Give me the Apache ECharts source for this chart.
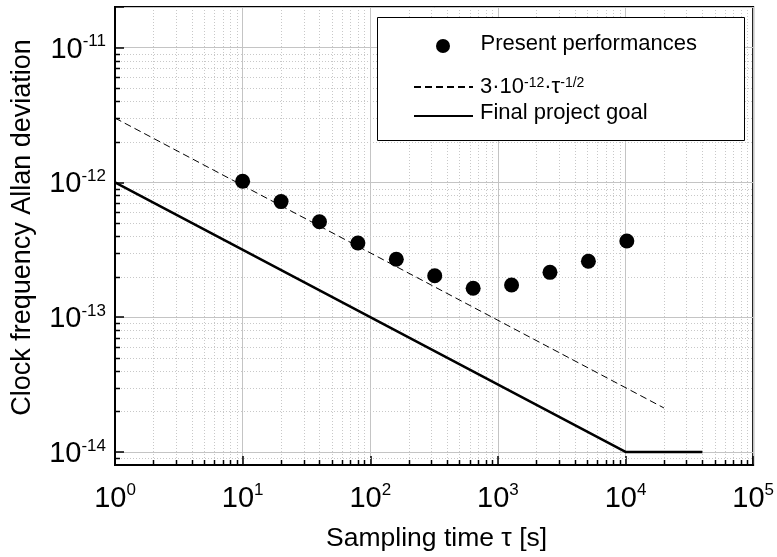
<!DOCTYPE html>
<html><head><meta charset="utf-8">
<script src="https://cdn.jsdelivr.net/npm/echarts@6/dist/echarts.min.js"></script>
<style>html,body{margin:0;padding:0;background:#fff}#c{width:777px;height:557px}</style>
</head><body><div id="c"></div>
<script>
// ---- data ----
const tau = [10, 20, 40, 80, 160, 320, 640, 1280, 2560, 5120, 10240];
const adev = [1.02e-12, 7.2e-13, 5.1e-13, 3.55e-13, 2.69e-13, 2.03e-13, 1.64e-13, 1.73e-13, 2.15e-13, 2.60e-13, 3.67e-13];
const refTau = [1, 20000];
const refDev = [3e-12, 2.12e-14];
const goalTau = [1, 10000, 40000];
const goalDev = [1e-12, 1e-14, 1e-14];
const xDecades = [0, 1, 2, 3, 4];
const yDecades = [-15, -14, -13, -12, -11];
const minorMultipliers = [2, 3, 4, 5, 6, 7, 8, 9];
const xMin = 1, xMax = 1e5, yMin = 8e-15, yMax = 2e-11;
const nameScatter = 'Present performances';
const nameRef = 'ref';
const nameGoal = 'Final project goal';
const refLegendText = '{n|3·10}{s|-12}{n|·τ}{s|-1/2}';
const xTitle = 'Sampling time τ [s]';
const yTitle = 'Clock frequency Allan deviation';

const FONT = "'Liberation Sans', Arial, Helvetica, sans-serif";

function pow10Label(v) {
  const e = Math.log10(v);
  const r = Math.round(e);
  if (Math.abs(e - r) > 1e-6) return '';
  return '{b|10}{s|' + r + '}';
}
function minorValues(decades, lo, hi) {
  const out = [];
  decades.forEach(d => minorMultipliers.forEach(m => {
    const v = m * Math.pow(10, d);
    if (v > lo * 1.0001 && v < hi * 0.9999) out.push(v);
  }));
  return out;
}
const xMinor = minorValues(xDecades, xMin, xMax);
const yMinor = minorValues(yDecades, yMin, yMax);

const labelRich = {
  b: { fontSize: 29, lineHeight: 29, padding: [4, 0, 0, 0], fontFamily: FONT, color: '#000' },
  s: { fontSize: 17, lineHeight: 17, verticalAlign: 'top', fontFamily: FONT, color: '#000' }
};
const legendRich = {
  n: { fontSize: 22, lineHeight: 22, fontFamily: FONT, color: '#000' },
  s: { fontSize: 14, lineHeight: 14, verticalAlign: 'top', fontFamily: FONT, color: '#000' }
};
const gridColor = '#c4c4c4';
const minorColor = '#c8c8c8';

const chart = echarts.init(document.getElementById('c'), null, { renderer: 'canvas' });
const legendBase = {
  orient: 'vertical', itemWidth: 59, itemHeight: 14, padding: 0,
  selectedMode: false, z: 60
};
function legendText(pad) {
  return { fontFamily: FONT, fontSize: 22, color: '#000', rich: legendRich, padding: pad };
}
chart.setOption({
  animation: false,
  backgroundColor: '#fff',
  grid: { left: 115, right: 21, top: 7, bottom: 91, show: true, borderColor: '#000', borderWidth: 2, backgroundColor: 'transparent' },
  xAxis: {
    type: 'log', logBase: 10, min: xMin, max: xMax,
    axisLine: { show: true, onZero: false, lineStyle: { color: '#000', width: 2 } },
    axisTick: { show: true, inside: true, length: 9, lineStyle: { color: '#000', width: 1.5 } },
    axisLabel: { margin: 17, formatter: pow10Label, rich: labelRich },
    splitLine: { show: true, lineStyle: { color: gridColor, width: 1 } },
    name: xTitle, nameLocation: 'middle', nameGap: 60,
    nameTextStyle: { fontFamily: FONT, fontSize: 26.5, color: '#000', padding: [0, 0, 0, 5] }
  },
  yAxis: {
    type: 'log', logBase: 10, min: yMin, max: yMax,
    axisLine: { show: true, onZero: false, lineStyle: { color: '#000', width: 2 } },
    axisTick: { show: true, inside: true, length: 9, lineStyle: { color: '#000', width: 1.5 } },
    axisLabel: { margin: 9, formatter: pow10Label, rich: labelRich },
    splitLine: { show: true, lineStyle: { color: gridColor, width: 1 } },
    name: yTitle, nameLocation: 'middle', nameGap: 79,
    nameTextStyle: { fontFamily: FONT, fontSize: 27, color: '#000', padding: [0, 0, 0, 17] }
  },
  legend: [
    Object.assign({}, legendBase, { data: [nameScatter], left: 436, top: 33, textStyle: legendText([0, 0, 4, 3]) }),
    Object.assign({}, legendBase, { data: [nameRef], left: 413, top: 76, formatter: () => refLegendText,
      itemStyle: { opacity: 0 }, textStyle: legendText([0, 0, 0, 2]) }),
    Object.assign({}, legendBase, { data: [nameGoal], left: 413, top: 102,
      itemStyle: { opacity: 0 }, textStyle: legendText([0, 0, 6, 2]) })
  ],
  graphic: [
    { type: 'rect', shape: { x: 377.5, y: 17.5, width: 367, height: 123 },
      style: { fill: '#fff', stroke: '#000', lineWidth: 1 }, z: 50, silent: true }
  ],
  series: [
    {
      type: 'custom', name: 'xminor', silent: true, z: 1,
      data: xMinor.map(v => [v, yMin]), encode: { x: 0, y: 1 },
      renderItem: (params, api) => {
        const cs = params.coordSys;
        const x = Math.round(api.coord([api.value(0), api.value(1)])[0]) + 0.5;
        const yb = cs.y + cs.height;
        return { type: 'group', children: [
          { type: 'line', shape: { x1: x, y1: cs.y, x2: x, y2: yb }, style: { stroke: minorColor, lineWidth: 1, lineDash: [1, 2] } },
          { type: 'line', shape: { x1: x, y1: yb, x2: x, y2: yb - 5 }, style: { stroke: '#000', lineWidth: 1.5 } }
        ] };
      }
    },
    {
      type: 'custom', name: 'yminor', silent: true, z: 1,
      data: yMinor.map(v => [xMin, v]), encode: { x: 0, y: 1 },
      renderItem: (params, api) => {
        const cs = params.coordSys;
        const y = Math.round(api.coord([api.value(0), api.value(1)])[1]) + 0.5;
        return { type: 'group', children: [
          { type: 'line', shape: { x1: cs.x, y1: y, x2: cs.x + cs.width, y2: y }, style: { stroke: minorColor, lineWidth: 1, lineDash: [1, 2] } },
          { type: 'line', shape: { x1: cs.x, y1: y, x2: cs.x + 5, y2: y }, style: { stroke: '#000', lineWidth: 1.5 } }
        ] };
      }
    },
    {
      type: 'line', name: nameRef, data: refTau.map((t, i) => [t, refDev[i]]),
      symbol: 'none', z: 3,
      lineStyle: { color: '#000', width: 1, type: [7, 4] }, itemStyle: { color: '#000' }
    },
    {
      type: 'line', name: nameGoal, data: goalTau.map((t, i) => [t, goalDev[i]]),
      symbol: 'none', z: 3,
      lineStyle: { color: '#000', width: 2.5 }, itemStyle: { color: '#000' }
    },
    {
      type: 'scatter', name: nameScatter, data: tau.map((t, i) => [t, adev[i]]),
      symbol: 'circle', symbolSize: 15, z: 4,
      itemStyle: { color: '#000', opacity: 1 }
    }
  ]
});
</script>
</body></html>
